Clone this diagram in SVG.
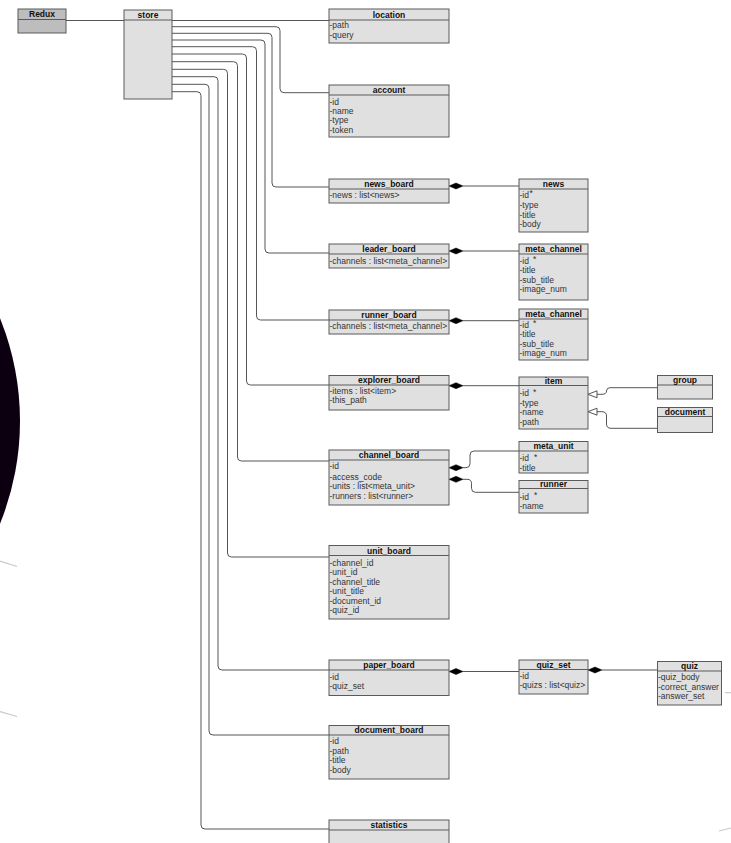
<svg xmlns="http://www.w3.org/2000/svg" width="731" height="843" viewBox="0 0 731 843">
<style>
.box{fill:#e0e0e0;stroke:#5a5a5a;stroke-width:1}
.dark{fill:#bdbdbd;stroke:#5a5a5a;stroke-width:1}
.sep{stroke:#5a5a5a;stroke-width:1}
.hd{font-family:"Liberation Sans",Arial,sans-serif;font-size:8.5px;font-weight:bold;fill:#111;text-anchor:middle}
.rw{font-family:"Liberation Sans",Arial,sans-serif;font-size:8.5px;fill:#333}
.ln{fill:none;stroke:#555;stroke-width:1}
.dia{fill:#000;stroke:#000;stroke-width:0.5}
.tri{fill:#fff;stroke:#555;stroke-width:1}
.deco{stroke:#c8c8c8;stroke-width:1.2;fill:none}
</style>
<rect width="731" height="843" fill="#fff"/>
<g id="background">
<ellipse cx="-230" cy="421" rx="250" ry="262" fill="#0c0010"/>
<line class="deco" x1="0" y1="561" x2="17" y2="566.5"/>
<line class="deco" x1="0" y1="711.5" x2="17" y2="716.5"/>
<line class="deco" x1="725" y1="692.7" x2="731" y2="692.7"/>
<line class="deco" x1="719" y1="831" x2="731" y2="828"/>
</g>
<g id="connectors">
<line class="ln" x1="66" y1="20.5" x2="124" y2="20.5"/>
<line class="ln" x1="172" y1="20.5" x2="329" y2="20.5"/>
<path class="ln" d="M172,26.7 H276 Q280,26.7 280,30.7 V88.7 Q280,92.7 284,92.7 H329"/>
<path class="ln" d="M172,33.3 H268 Q272,33.3 272,37.3 V183 Q272,187 276,187 H329"/>
<path class="ln" d="M172,40 H261 Q265,40 265,44 V249 Q265,253 269,253 H329"/>
<path class="ln" d="M172,46.7 H252.5 Q256.5,46.7 256.5,50.7 V316 Q256.5,320 260.5,320 H329"/>
<path class="ln" d="M172,54 H242.5 Q246.5,54 246.5,58 V381 Q246.5,385 250.5,385 H329"/>
<path class="ln" d="M172,61.7 H233.5 Q237.5,61.7 237.5,65.7 V457 Q237.5,461 241.5,461 H329"/>
<path class="ln" d="M172,69.3 H223.5 Q227.5,69.3 227.5,73.3 V553 Q227.5,557 231.5,557 H329"/>
<path class="ln" d="M172,76.7 H214 Q218,76.7 218,80.7 V666 Q218,670 222,670 H329"/>
<path class="ln" d="M172,84.3 H205 Q209,84.3 209,88.3 V731 Q209,735 213,735 H329"/>
<path class="ln" d="M172,91.7 H197 Q201,91.7 201,95.7 V825 Q201,829 205,829 H329"/>
<line class="ln" x1="463" y1="186" x2="519" y2="186"/>
<polygon class="dia" points="449,186 456,183 463,186 456,189"/>
<line class="ln" x1="463" y1="251" x2="519" y2="251"/>
<polygon class="dia" points="449,251 456,248 463,251 456,254"/>
<line class="ln" x1="463" y1="320.7" x2="519" y2="320.7"/>
<polygon class="dia" points="449,320.7 456,317.7 463,320.7 456,323.7"/>
<line class="ln" x1="463" y1="385.7" x2="519" y2="385.7"/>
<polygon class="dia" points="449,385.7 456,382.7 463,385.7 456,388.7"/>
<path class="ln" d="M463,467.7 H466 Q470,467.7 470,463.7 V455 Q470,451 474,451 H519"/>
<polygon class="dia" points="449,467.7 456,464.7 463,467.7 456,470.7"/>
<path class="ln" d="M463,479.3 H467 Q471.5,479.3 471.5,483.3 V488.3 Q471.5,492.3 475.5,492.3 H519"/>
<polygon class="dia" points="449,479.3 456,476.3 463,479.3 456,482.3"/>
<line class="ln" x1="463" y1="671.5" x2="519" y2="671.5"/>
<polygon class="dia" points="449,671.5 456,668.5 463,671.5 456,674.5"/>
<line class="ln" x1="602" y1="670" x2="657.5" y2="670"/>
<polygon class="dia" points="588,670 595,667 602,670 595,673"/>
<path class="ln" d="M597,394.3 H602 Q606.5,394.3 606.5,391 Q606.5,387.7 610,387.7 H657.5"/>
<polygon class="tri" points="588,394.3 597,390.8 597,397.8"/>
<path class="ln" d="M597,411.7 H602 Q606.5,411.7 606.5,416 V424 Q606.5,428.3 611,428.3 H657.5"/>
<polygon class="tri" points="588,411.7 597,408.2 597,415.2"/>
</g>
<g id="redux">
<rect class="dark" x="18" y="9" width="48" height="24"/>
<line class="sep" x1="18" y1="19.5" x2="66" y2="19.5"/>
<text class="hd" x="42" y="17.3">Redux</text>
</g>
<g id="store">
<rect class="box" x="124" y="10" width="48" height="89"/>
<line class="sep" x1="124" y1="20" x2="172" y2="20"/>
<text class="hd" x="148" y="18">store</text>
</g>
<g id="location">
<rect class="box" x="329" y="9" width="120" height="34"/>
<line class="sep" x1="329" y1="20" x2="449" y2="20"/>
<text class="hd" x="389" y="17.5">location</text>
<text class="rw" x="329.5" y="28">-path</text>
<text class="rw" x="329.5" y="38">-query</text>
</g>
<g id="account">
<rect class="box" x="329" y="85" width="120" height="52"/>
<line class="sep" x1="329" y1="95" x2="449" y2="95"/>
<text class="hd" x="389" y="93">account</text>
<text class="rw" x="329.5" y="104.5">-id</text>
<text class="rw" x="329.5" y="113.5">-name</text>
<text class="rw" x="329.5" y="123">-type</text>
<text class="rw" x="329.5" y="132.5">-token</text>
</g>
<g id="news_board">
<rect class="box" x="329" y="179" width="120" height="24"/>
<line class="sep" x1="329" y1="189" x2="449" y2="189"/>
<text class="hd" x="389" y="187">news_board</text>
<text class="rw" x="329.5" y="198">-news : list&lt;news&gt;</text>
</g>
<g id="news">
<rect class="box" x="519" y="179" width="69" height="53"/>
<line class="sep" x1="519" y1="189" x2="588" y2="189"/>
<text class="hd" x="553.5" y="187">news</text>
<text class="rw" x="519.5" y="198">-id<tspan x="529.5" y="195.5">*</tspan></text>
<text class="rw" x="519.5" y="208">-type</text>
<text class="rw" x="519.5" y="217.5">-title</text>
<text class="rw" x="519.5" y="227">-body</text>
</g>
<g id="leader_board">
<rect class="box" x="329" y="244" width="120" height="24"/>
<line class="sep" x1="329" y1="254" x2="449" y2="254"/>
<text class="hd" x="389" y="252">leader_board</text>
<text class="rw" x="329.5" y="263.5">-channels : list&lt;meta_channel&gt;</text>
</g>
<g id="meta_channel_1">
<rect class="box" x="519" y="244" width="69" height="56"/>
<line class="sep" x1="519" y1="254" x2="588" y2="254"/>
<text class="hd" x="553.5" y="252">meta_channel</text>
<text class="rw" x="519.5" y="263.5">-id<tspan x="533" y="262">*</tspan></text>
<text class="rw" x="519.5" y="273">-title</text>
<text class="rw" x="519.5" y="282.5">-sub_title</text>
<text class="rw" x="519.5" y="292">-image_num</text>
</g>
<g id="runner_board">
<rect class="box" x="329" y="310" width="120" height="24"/>
<line class="sep" x1="329" y1="320" x2="449" y2="320"/>
<text class="hd" x="389" y="318">runner_board</text>
<text class="rw" x="329.5" y="328.5">-channels : list&lt;meta_channel&gt;</text>
</g>
<g id="meta_channel_2">
<rect class="box" x="519" y="309" width="69" height="51"/>
<line class="sep" x1="519" y1="319" x2="588" y2="319"/>
<text class="hd" x="553.5" y="317">meta_channel</text>
<text class="rw" x="519.5" y="327.5">-id<tspan x="533" y="326">*</tspan></text>
<text class="rw" x="519.5" y="337">-title</text>
<text class="rw" x="519.5" y="346.5">-sub_title</text>
<text class="rw" x="519.5" y="356">-image_num</text>
</g>
<g id="explorer_board">
<rect class="box" x="329" y="375.5" width="120" height="34.5"/>
<line class="sep" x1="329" y1="385" x2="449" y2="385"/>
<text class="hd" x="389" y="383.3">explorer_board</text>
<text class="rw" x="329.5" y="393.5">-items : list&lt;item&gt;</text>
<text class="rw" x="329.5" y="402.5">-this_path</text>
</g>
<g id="item">
<rect class="box" x="519" y="377" width="69" height="52"/>
<line class="sep" x1="519" y1="385.5" x2="588" y2="385.5"/>
<text class="hd" x="553.5" y="384.3">item</text>
<text class="rw" x="519.5" y="396">-id<tspan x="533" y="394.5">*</tspan></text>
<text class="rw" x="519.5" y="405.5">-type</text>
<text class="rw" x="519.5" y="415">-name</text>
<text class="rw" x="519.5" y="425">-path</text>
</g>
<g id="group">
<rect class="box" x="657.5" y="375.5" width="55" height="23.5"/>
<line class="sep" x1="657.5" y1="385" x2="712.5" y2="385"/>
<text class="hd" x="685" y="383.3">group</text>
</g>
<g id="document">
<rect class="box" x="657.5" y="407.5" width="55" height="25"/>
<line class="sep" x1="657.5" y1="416.5" x2="712.5" y2="416.5"/>
<text class="hd" x="685" y="415">document</text>
</g>
<g id="channel_board">
<rect class="box" x="329" y="450" width="120" height="55"/>
<line class="sep" x1="329" y1="460" x2="449" y2="460"/>
<text class="hd" x="389" y="458">channel_board</text>
<text class="rw" x="329.5" y="468.7">-id</text>
<text class="rw" x="329.5" y="479.7">-access_code</text>
<text class="rw" x="329.5" y="489">-units : list&lt;meta_unit&gt;</text>
<text class="rw" x="329.5" y="499">-runners : list&lt;runner&gt;</text>
</g>
<g id="meta_unit">
<rect class="box" x="519" y="441.5" width="69" height="31.5"/>
<line class="sep" x1="519" y1="451" x2="588" y2="451"/>
<text class="hd" x="553.5" y="449.3">meta_unit</text>
<text class="rw" x="519.5" y="461">-id<tspan x="534" y="459.5">*</tspan></text>
<text class="rw" x="519.5" y="470.7">-title</text>
</g>
<g id="runner">
<rect class="box" x="519" y="480.5" width="69" height="32.5"/>
<line class="sep" x1="519" y1="488.5" x2="588" y2="488.5"/>
<text class="hd" x="553.5" y="487.3">runner</text>
<text class="rw" x="519.5" y="499.7">-id<tspan x="534" y="498.2">*</tspan></text>
<text class="rw" x="519.5" y="509">-name</text>
</g>
<g id="unit_board">
<rect class="box" x="329" y="545.5" width="120" height="73.5"/>
<line class="sep" x1="329" y1="555.5" x2="449" y2="555.5"/>
<text class="hd" x="389" y="553.5">unit_board</text>
<text class="rw" x="329.5" y="565.7">-channel_id</text>
<text class="rw" x="329.5" y="575">-unit_id</text>
<text class="rw" x="329.5" y="584.7">-channel_title</text>
<text class="rw" x="329.5" y="594">-unit_title</text>
<text class="rw" x="329.5" y="603.7">-document_id</text>
<text class="rw" x="329.5" y="613.3">-quiz_id</text>
</g>
<g id="paper_board">
<rect class="box" x="329" y="660" width="120" height="35.5"/>
<line class="sep" x1="329" y1="670" x2="449" y2="670"/>
<text class="hd" x="389" y="668">paper_board</text>
<text class="rw" x="329.5" y="679.7">-id</text>
<text class="rw" x="329.5" y="689">-quiz_set</text>
</g>
<g id="quiz_set">
<rect class="box" x="519" y="660" width="69" height="34"/>
<line class="sep" x1="519" y1="669.5" x2="588" y2="669.5"/>
<text class="hd" x="553.5" y="667.8">quiz_set</text>
<text class="rw" x="519.5" y="679">-id</text>
<text class="rw" x="519.5" y="688.3">-quizs : list&lt;quiz&gt;</text>
</g>
<g id="quiz">
<rect class="box" x="657.5" y="661.5" width="64" height="43.5"/>
<line class="sep" x1="657.5" y1="671" x2="721.5" y2="671"/>
<text class="hd" x="689.5" y="669.3">quiz</text>
<text class="rw" x="658" y="680.3">-quiz_body</text>
<text class="rw" x="658" y="689.7">-correct_answer</text>
<text class="rw" x="658" y="699">-answer_set</text>
</g>
<g id="document_board">
<rect class="box" x="329" y="725.5" width="120" height="53.5"/>
<line class="sep" x1="329" y1="735" x2="449" y2="735"/>
<text class="hd" x="389" y="733.3">document_board</text>
<text class="rw" x="329.5" y="744">-id</text>
<text class="rw" x="329.5" y="754">-path</text>
<text class="rw" x="329.5" y="763">-title</text>
<text class="rw" x="329.5" y="773">-body</text>
</g>
<g id="statistics">
<rect class="box" x="329" y="820" width="120" height="30"/>
<line class="sep" x1="329" y1="830" x2="449" y2="830"/>
<text class="hd" x="389" y="828">statistics</text>
</g>
</svg>
